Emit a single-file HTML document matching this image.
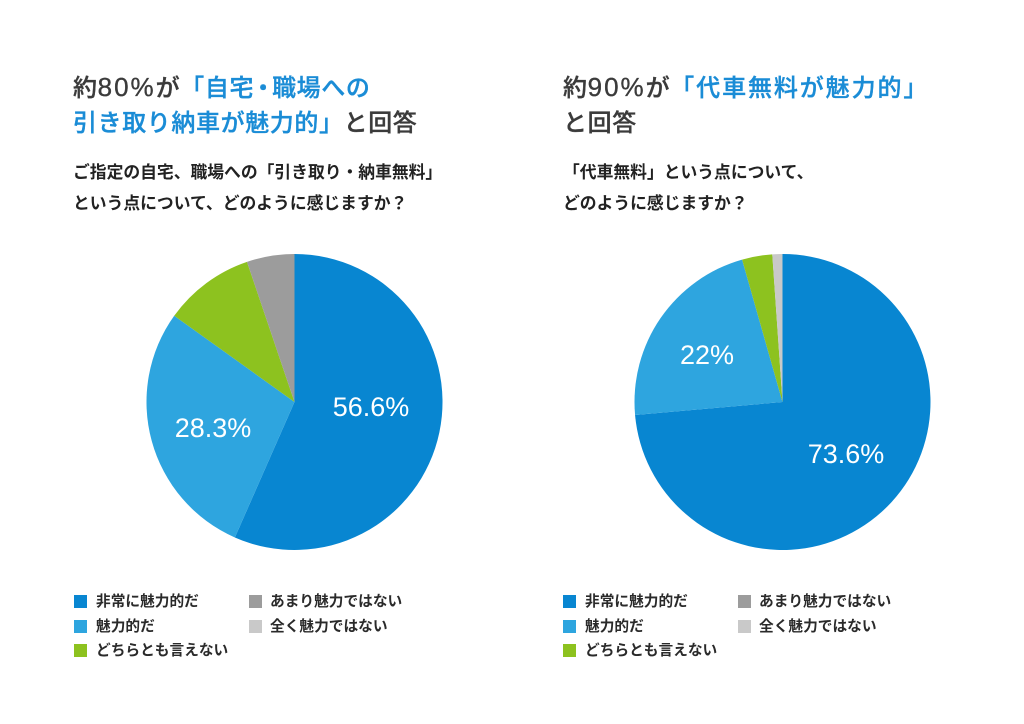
<!DOCTYPE html>
<html lang="ja">
<head>
<meta charset="utf-8">
<style>
  html,body{margin:0;padding:0;background:#fff;}
  body{width:1024px;height:724px;position:relative;overflow:hidden;
    font-family:"Liberation Sans","Noto Sans CJK JP",sans-serif;}
  .t{position:absolute;white-space:nowrap;font-size:24px;height:30px;line-height:30px;
     color:#3b3b3b;letter-spacing:0.6px;font-weight:500;-webkit-text-stroke:0.35px currentColor;}
  .b{color:#1a8cd6;}
  .d{font-size:26px;letter-spacing:2px;}
  .s{position:absolute;white-space:nowrap;font-size:16.8px;height:24px;line-height:24px;
     color:#222;font-weight:bold;}
  .lg{position:absolute;white-space:nowrap;font-size:14.7px;height:20px;line-height:20px;
     color:#2a2a2a;font-weight:bold;}
  .sq{position:absolute;width:13px;height:13px;}
  svg{position:absolute;left:0;top:0;}
</style>
</head>
<body>
<svg width="1024" height="724" viewBox="0 0 1024 724">
  <!-- Left pie -->
  <path d="M294.5,402 L294.5,254 A148,148 0 1 1 234.87,537.45 Z" fill="#0886d1"/>
  <path d="M294.5,402 L234.87,537.45 A148,148 0 0 1 174.21,315.76 Z" fill="#2ea5df"/>
  <path d="M294.5,402 L174.21,315.76 A148,148 0 0 1 246.99,261.83 Z" fill="#8dc21f"/>
  <path d="M294.5,402 L246.99,261.83 A148,148 0 0 1 294.5,254 Z" fill="#9c9c9c"/>
  <text x="371" y="416" font-family="Liberation Sans, sans-serif" font-size="27" fill="#fff" text-anchor="middle">56.6%</text>
  <text x="213" y="437" font-family="Liberation Sans, sans-serif" font-size="27" fill="#fff" text-anchor="middle">28.3%</text>
  <!-- Right pie -->
  <path d="M782.5,402 L782.5,254 A148,148 0 1 1 635.07,415.0 Z" fill="#0886d1"/>
  <path d="M782.5,402 L635.07,415.0 A148,148 0 0 1 742.10,259.62 Z" fill="#2ea5df"/>
  <path d="M782.5,402 L742.10,259.62 A148,148 0 0 1 772.28,254.35 Z" fill="#8dc21f"/>
  <path d="M782.5,402 L772.28,254.35 A148,148 0 0 1 782.5,254 Z" fill="#c9c9c9"/>
  <text x="707" y="364" font-family="Liberation Sans, sans-serif" font-size="27" fill="#fff" text-anchor="middle">22%</text>
  <text x="846" y="463" font-family="Liberation Sans, sans-serif" font-size="27" fill="#fff" text-anchor="middle">73.6%</text>
</svg>

<!-- Left titles -->
<div class="t" style="left:73px;top:72px;">約<span class="d">80%</span>が<span class="b">「自宅<span style="margin-left:-3px;letter-spacing:-3px;">・</span>職場への</span></div>
<div class="t" style="left:73px;top:109px;"><span class="b">引き取り納車が魅力的」</span>と回答</div>
<div class="s" style="left:73px;top:161px;">ご指定の自宅、職場への「引き取り・納車無料」</div>
<div class="s" style="left:73px;top:192px;">という点について、どのように感じますか？</div>

<!-- Right titles -->
<div class="t" style="left:563px;top:72px;">約<span class="d">90%</span>が<span class="b" style="letter-spacing:1.9px;">「代車無料が魅力的」</span></div>
<div class="t" style="left:563px;top:109px;">と回答</div>
<div class="s" style="left:563px;top:161px;">「代車無料」という点について、</div>
<div class="s" style="left:563px;top:192px;">どのように感じますか？</div>

<!-- Left legend -->
<div class="sq" style="left:74px;top:595px;background:#0886d1;"></div>
<div class="lg" style="left:96px;top:592px;">非常に魅力的だ</div>
<div class="sq" style="left:74px;top:619.5px;background:#2ea5df;"></div>
<div class="lg" style="left:96px;top:616.5px;">魅力的だ</div>
<div class="sq" style="left:74px;top:644px;background:#8dc21f;"></div>
<div class="lg" style="left:96px;top:641px;">どちらとも言えない</div>
<div class="sq" style="left:249px;top:595px;background:#9c9c9c;"></div>
<div class="lg" style="left:270px;top:592px;">あまり魅力ではない</div>
<div class="sq" style="left:249px;top:619.5px;background:#c9c9c9;"></div>
<div class="lg" style="left:270px;top:616.5px;">全く魅力ではない</div>

<!-- Right legend -->
<div class="sq" style="left:563px;top:595px;background:#0886d1;"></div>
<div class="lg" style="left:585px;top:592px;">非常に魅力的だ</div>
<div class="sq" style="left:563px;top:619.5px;background:#2ea5df;"></div>
<div class="lg" style="left:585px;top:616.5px;">魅力的だ</div>
<div class="sq" style="left:563px;top:644px;background:#8dc21f;"></div>
<div class="lg" style="left:585px;top:641px;">どちらとも言えない</div>
<div class="sq" style="left:738px;top:595px;background:#9c9c9c;"></div>
<div class="lg" style="left:759px;top:592px;">あまり魅力ではない</div>
<div class="sq" style="left:738px;top:619.5px;background:#c9c9c9;"></div>
<div class="lg" style="left:759px;top:616.5px;">全く魅力ではない</div>
</body>
</html>
